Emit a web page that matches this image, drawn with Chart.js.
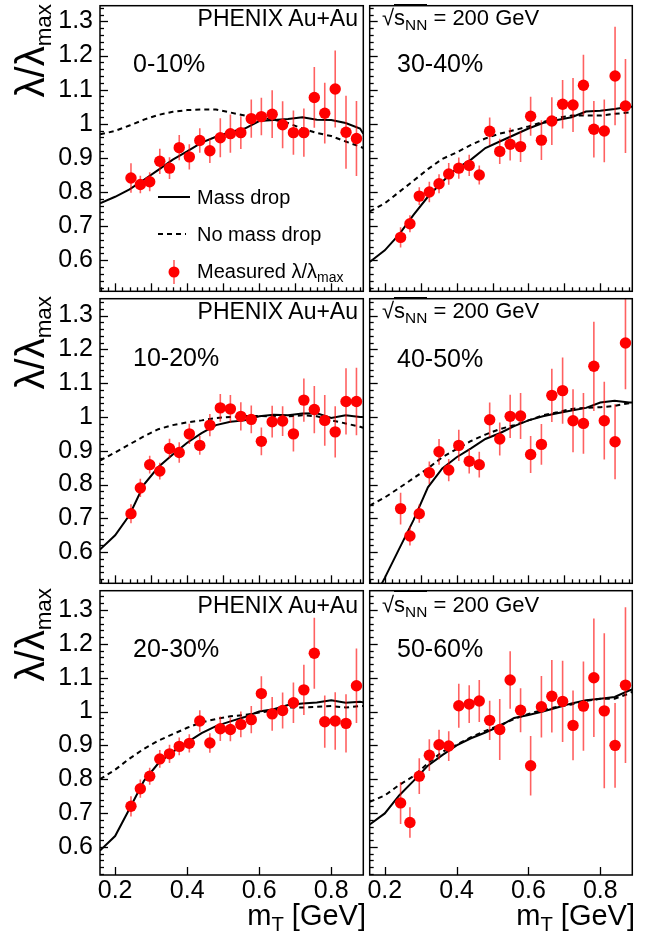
<!DOCTYPE html>
<html><head><meta charset="utf-8">
<script src="https://cdn.jsdelivr.net/npm/chart.js@4.4.0/dist/chart.umd.min.js"></script>
<style>
html,body{margin:0;padding:0;background:#fff;width:661px;height:939px;overflow:hidden;}
#wrap{position:relative;width:661px;height:939px;font-family:"Liberation Sans",Arial,Helvetica,sans-serif;color:#000;}
canvas{position:absolute;}
.t{position:absolute;white-space:nowrap;line-height:1;}
.sub{font-size:0.7em;position:relative;top:0.3em;}
.ytitle{position:absolute;white-space:nowrap;line-height:1;font-size:40px;width:200px;text-align:right;transform-origin:0 0;transform:rotate(-90deg);}
.ytitle .sub{font-size:0.56em;top:0.32em;}
.ov{border-top:1.6px solid #000;padding-top:0px;}
</style>
</head><body><div id="wrap">
<canvas id="c0" width="369" height="297" style="left:0;top:0"></canvas>
<canvas id="c1" width="274" height="297" style="left:364px;top:0"></canvas>
<canvas id="c2" width="369" height="296" style="left:0;top:293px"></canvas>
<canvas id="c3" width="274" height="296" style="left:364px;top:293px"></canvas>
<canvas id="c4" width="369" height="354" style="left:0;top:585px"></canvas>
<canvas id="c5" width="274" height="354" style="left:364px;top:585px"></canvas>

<div class="t" style="right:303px;top:7px;font-size:23px">PHENIX Au+Au</div>
<div class="t" style="right:303px;top:300px;font-size:23px">PHENIX Au+Au</div>
<div class="t" style="right:303px;top:594px;font-size:23px">PHENIX Au+Au</div>
<div class="t" style="left:382px;top:7px;font-size:22px">√<span class="ov">s<span class="sub">NN</span></span> = 200 GeV</div>
<div class="t" style="left:382px;top:300px;font-size:22px">√<span class="ov">s<span class="sub">NN</span></span> = 200 GeV</div>
<div class="t" style="left:382px;top:594px;font-size:22px">√<span class="ov">s<span class="sub">NN</span></span> = 200 GeV</div>

<div class="t" style="left:133px;top:51px;font-size:25px">0-10%</div>
<div class="t" style="left:133px;top:345px;font-size:25px">10-20%</div>
<div class="t" style="left:133px;top:636px;font-size:25px">20-30%</div>
<div class="t" style="left:397px;top:51px;font-size:25px">30-40%</div>
<div class="t" style="left:397px;top:346px;font-size:25px">40-50%</div>
<div class="t" style="left:397px;top:636px;font-size:25px">50-60%</div>

<div class="t" style="left:197px;top:187px;font-size:20px">Mass drop</div>
<div class="t" style="left:197px;top:224px;font-size:20px">No mass drop</div>
<div class="t" style="left:197px;top:261px;font-size:20px">Measured λ/λ<span class="sub">max</span></div>

<div class="ytitle" style="left:10px;top:204px">λ/λ<span class="sub">max</span></div>
<div class="ytitle" style="left:10px;top:496px">λ/λ<span class="sub">max</span></div>
<div class="ytitle" style="left:10px;top:788px">λ/λ<span class="sub">max</span></div>

<div class="t" style="right:295px;top:901px;font-size:29px">m<span class="sub">T</span> [GeV]</div>
<div class="t" style="right:26px;top:901px;font-size:29px">m<span class="sub">T</span> [GeV]</div>
</div>
<script>
// ---------- data ----------
const mT = [0.244,0.270,0.296,0.324,0.351,0.378,0.406,0.435,0.463,0.492,0.520,0.549,0.578,0.606,0.636,0.665,0.695,0.724,0.753,0.782,0.811,0.841,0.870];
const curveMT = [0.158,0.20,0.24,0.28,0.32,0.36,0.40,0.44,0.48,0.52,0.56,0.60,0.64,0.68,0.72,0.76,0.80,0.84,0.88,0.889];

const ratio0_10 = [0.841,0.822,0.830,0.890,0.870,0.930,0.903,0.951,0.921,0.959,0.971,0.974,1.015,1.021,1.028,0.997,0.974,0.974,1.077,1.031,1.102,0.975,0.957];
const err0_10   = [0.043,0.026,0.028,0.037,0.032,0.037,0.037,0.036,0.036,0.057,0.056,0.048,0.056,0.055,0.070,0.069,0.065,0.071,0.089,0.089,0.113,0.107,0.110];
const massDrop0_10 = [0.767,0.786,0.808,0.836,0.865,0.895,0.919,0.945,0.962,0.976,0.986,1.008,1.011,1.014,1.019,1.012,1.011,1.002,0.986,0.971];
const noDrop0_10   = [0.969,0.979,0.995,1.012,1.026,1.035,1.040,1.042,1.042,1.033,1.024,1.019,1.012,1.002,0.986,0.973,0.964,0.948,0.933,0.929];

const ratio10_20 = [0.714,0.790,0.859,0.840,0.907,0.895,0.950,0.916,0.976,1.027,1.024,1.002,0.993,0.928,0.986,0.988,0.950,1.050,1.022,0.990,0.956,1.046,1.046];
const err10_20   = [0.028,0.027,0.026,0.025,0.029,0.030,0.030,0.028,0.033,0.041,0.041,0.042,0.041,0.041,0.047,0.044,0.052,0.064,0.070,0.075,0.076,0.098,0.100];
const massDrop10_20 = [0.608,0.650,0.710,0.800,0.852,0.889,0.924,0.952,0.976,0.986,0.990,1.002,1.007,1.005,1.010,1.011,0.997,1.005,1.000,1.000];
const noDrop10_20   = [0.871,0.895,0.919,0.943,0.964,0.976,0.984,0.990,0.997,1.000,1.003,1.003,1.002,1.002,1.005,1.002,0.990,0.981,0.971,0.968];

const ratio20_30 = [0.720,0.772,0.809,0.860,0.875,0.897,0.906,0.972,0.907,0.949,0.947,0.962,0.976,1.053,0.993,1.003,1.026,1.064,1.172,0.970,0.972,0.965,1.076];
const err20_30   = [0.030,0.027,0.025,0.026,0.027,0.026,0.027,0.032,0.029,0.036,0.035,0.038,0.040,0.051,0.050,0.053,0.060,0.074,0.105,0.077,0.085,0.086,0.110];
const massDrop20_30 = [0.589,0.632,0.713,0.795,0.847,0.881,0.909,0.936,0.957,0.971,0.984,1.000,1.007,1.019,1.024,1.027,1.033,1.026,1.029,1.027];
const noDrop20_30   = [0.800,0.828,0.861,0.890,0.914,0.933,0.952,0.968,0.978,0.986,0.990,0.997,1.003,1.012,1.012,1.014,1.016,1.012,1.016,1.016];

const ratio30_40 = [0.667,0.707,0.788,0.800,0.824,0.853,0.870,0.878,0.850,0.978,0.919,0.940,0.933,1.022,0.952,1.008,1.057,1.055,1.113,0.984,0.979,1.140,1.052];
const err30_40   = [0.030,0.025,0.026,0.030,0.028,0.032,0.031,0.031,0.028,0.040,0.037,0.048,0.045,0.057,0.058,0.070,0.071,0.079,0.089,0.083,0.092,0.144,0.138];
const massDrop30_40 = [0.595,0.629,0.676,0.733,0.786,0.830,0.869,0.895,0.929,0.948,0.967,0.986,1.002,1.011,1.019,1.036,1.038,1.043,1.050,1.050];
const noDrop30_40   = [0.743,0.767,0.800,0.833,0.867,0.897,0.916,0.938,0.957,0.971,0.981,0.992,1.005,1.017,1.024,1.024,1.024,1.029,1.033,1.033];

const ratio40_50 = [0.729,0.648,0.714,0.835,0.897,0.843,0.916,0.869,0.859,0.992,0.935,1.002,1.003,0.889,0.919,1.064,1.078,0.989,0.981,1.150,0.989,0.927,1.219];
const err40_50   = [0.047,0.028,0.027,0.033,0.038,0.033,0.046,0.036,0.038,0.051,0.049,0.064,0.068,0.055,0.060,0.079,0.098,0.093,0.090,0.132,0.115,0.111,0.137];
const massDrop40_50 = [0.440,0.524,0.610,0.695,0.792,0.848,0.881,0.907,0.935,0.952,0.973,0.990,1.002,1.011,1.019,1.027,1.043,1.048,1.043,1.043];
const noDrop40_50   = [0.738,0.762,0.790,0.819,0.848,0.881,0.905,0.929,0.948,0.964,0.976,0.990,1.005,1.014,1.024,1.027,1.029,1.033,1.041,1.041];

const ratio50_60 = [0.730,0.672,0.809,0.871,0.902,0.898,1.017,1.022,1.031,0.974,0.947,1.093,1.004,0.840,1.014,1.045,1.030,0.959,1.016,1.100,1.002,0.900,1.078];
const err50_60   = [0.062,0.045,0.053,0.047,0.044,0.044,0.065,0.056,0.062,0.058,0.090,0.085,0.065,0.088,0.091,0.107,0.120,0.103,0.132,0.175,0.229,0.125,0.230];
const massDrop50_60 = [0.666,0.699,0.752,0.795,0.840,0.871,0.900,0.921,0.938,0.957,0.981,0.990,1.000,1.012,1.024,1.033,1.038,1.043,1.062,1.065];
const noDrop50_60   = [0.733,0.752,0.783,0.809,0.847,0.881,0.902,0.924,0.943,0.959,0.978,0.993,1.005,1.014,1.021,1.031,1.038,1.038,1.053,1.058];

const yTickValues = [0.6,0.7,0.8,0.9,1.0,1.1,1.2,1.3];
const yTickLabels = ['0.6','0.7','0.8','0.9','1','1.1','1.2','1.3'];
const xTickValues = [0.2,0.4,0.6,0.8];
const xTickLabels = ['0.2','0.4','0.6','0.8'];

// ---------- styling ----------
const FONT = '"Liberation Sans", Arial, Helvetica, sans-serif';
const X_MIN = 0.158, X_MAX = 0.889;
const Y_RANGES = [[0.509,1.346],[0.508,1.35],[0.517,1.357]];

const errorBars = {
  id:'errorBars',
  beforeDatasetDraw(chart, args){
    const ds = chart.data.datasets[args.index];
    if(!ds.errors) return;
    const {ctx, chartArea:a, scales:{x,y}} = chart;
    ctx.save();
    ctx.beginPath(); ctx.rect(a.left, a.top, a.right-a.left, a.bottom-a.top); ctx.clip();
    ctx.strokeStyle = 'rgba(255,0,0,0.62)'; ctx.lineWidth = 1.6;
    ds.data.forEach((p,i)=>{
      const px = x.getPixelForValue(p.x);
      ctx.beginPath();
      ctx.moveTo(px, y.getPixelForValue(p.y - ds.errors[i]));
      ctx.lineTo(px, y.getPixelForValue(p.y + ds.errors[i]));
      ctx.stroke();
    });
    ctx.restore();
  }
};

const rootFrame = {
  id:'rootFrame',
  afterDatasetsDraw(chart, args, opts){
    const {ctx, chartArea:a, scales:{x,y}} = chart;
    ctx.save();
    ctx.strokeStyle = '#000'; ctx.lineWidth = 1.3;
    for(let k=26;k<=67;k++){
      const v = k/50; if(v<y.min||v>y.max) continue;
      const major = (k%5===0);
      const py = Math.round(y.getPixelForValue(v))+0.5;
      ctx.beginPath(); ctx.moveTo(a.left, py); ctx.lineTo(a.left + (major?8:4), py); ctx.stroke();
    }
    if(opts.bottomRow){
      xTickValues.forEach(v=>{
        const px = Math.round(x.getPixelForValue(v))+0.5;
        ctx.beginPath(); ctx.moveTo(px, a.bottom); ctx.lineTo(px, a.bottom-8); ctx.stroke();
      });
    } else {
      for(let k=8;k<=44;k++){
        const v = k/50; if(v<x.min||v>x.max) continue;
        const major = (k%5===0);
        const px = Math.round(x.getPixelForValue(v))+0.5;
        ctx.beginPath(); ctx.moveTo(px, a.bottom); ctx.lineTo(px, a.bottom-(major?8:4)); ctx.stroke();
      }
    }
    ctx.lineWidth = 1.5;
    ctx.strokeRect(a.left, a.top, a.right-a.left, a.bottom-a.top);
    ctx.restore();
  }
};

const legendSymbols = {
  id:'legendSymbols',
  afterDraw(chart, args, opts){
    if(!opts.show) return;
    const ctx = chart.ctx;
    ctx.save();
    ctx.strokeStyle='#000'; ctx.lineWidth=2;
    ctx.beginPath(); ctx.moveTo(158,197); ctx.lineTo(190,197); ctx.stroke();
    ctx.setLineDash([5,4]);
    ctx.beginPath(); ctx.moveTo(158,234); ctx.lineTo(186,234); ctx.stroke();
    ctx.setLineDash([]);
    ctx.strokeStyle='rgba(255,0,0,0.62)'; ctx.lineWidth=1.6;
    ctx.beginPath(); ctx.moveTo(174,260); ctx.lineTo(174,284); ctx.stroke();
    ctx.fillStyle='#ff0000';
    ctx.beginPath(); ctx.arc(174,272,5.5,0,Math.PI*2); ctx.fill();
    ctx.restore();
  }
};

function makePanel(id, col, row, pts, errs, md, nmd){
  const isLeft = col===0, isBottom = row===2;
  const yr = Y_RANGES[row];
  new Chart(document.getElementById(id), {
    type:'scatter',
    data:{datasets:[
      {label:'Measured', data: mT.map((x,i)=>({x, y:pts[i]})), errors: errs, showLine:false,
       pointRadius:5.7, pointHoverRadius:5.7, pointBackgroundColor:'#ff0000', pointBorderWidth:0, backgroundColor:'#ff0000', borderColor:'#ff0000', order:0},
      {label:'Mass drop', data: curveMT.map((x,i)=>({x, y:md[i]})), showLine:true, pointRadius:0,
       borderColor:'#000', borderWidth:2, fill:false, tension:0, order:1},
      {label:'No mass drop', data: curveMT.map((x,i)=>({x, y:nmd[i]})), showLine:true, pointRadius:0,
       borderColor:'#000', borderWidth:2, borderDash:[5,4], fill:false, tension:0, order:2}
    ]},
    options:{
      responsive:false, animation:false, events:[],
      layout:{padding:{top: row===0?3:2, right:3, bottom:0, left:0}},
      plugins:{legend:{display:false}, tooltip:{enabled:false},
        rootFrame:{bottomRow:isBottom}, legendSymbols:{show: row===0 && col===0}},
      scales:{
        x:{type:'linear', min:X_MIN, max:X_MAX,
           grid:{display:false, drawTicks:false}, border:{display:false},
           ticks:{display:isBottom, font:{size:25, family:FONT}, color:'#000', padding:1, autoSkip:false, maxRotation:0,
                  callback:(v,i)=>xTickLabels[i]},
           afterBuildTicks:s=>{ s.ticks = xTickValues.map(v=>({value:v})); },
           afterFit:s=>{ s.height = isBottom?64:2; s.paddingLeft=0; s.paddingRight=0; s.paddingTop=0; s.paddingBottom=0; }},
        y:{type:'linear', min:yr[0], max:yr[1],
           grid:{display:false, drawTicks:false}, border:{display:false},
           ticks:{display:isLeft, font:{size:25, family:FONT}, color:'#000', padding:7, autoSkip:false,
                  callback:(v,i)=>yTickLabels[i]},
           afterBuildTicks:s=>{ s.ticks = yTickValues.map(v=>({value:v})); },
           afterFit:s=>{ s.width = isLeft?100:2; s.paddingTop=0; s.paddingBottom=0; s.paddingLeft=0; s.paddingRight=0; }}
      }
    },
    plugins:[errorBars, rootFrame, legendSymbols]
  });
}

makePanel('c0',0,0,ratio0_10,err0_10,massDrop0_10,noDrop0_10);
makePanel('c1',1,0,ratio30_40,err30_40,massDrop30_40,noDrop30_40);
makePanel('c2',0,1,ratio10_20,err10_20,massDrop10_20,noDrop10_20);
makePanel('c3',1,1,ratio40_50,err40_50,massDrop40_50,noDrop40_50);
makePanel('c4',0,2,ratio20_30,err20_30,massDrop20_30,noDrop20_30);
makePanel('c5',1,2,ratio50_60,err50_60,massDrop50_60,noDrop50_60);
</script>
</body></html>
